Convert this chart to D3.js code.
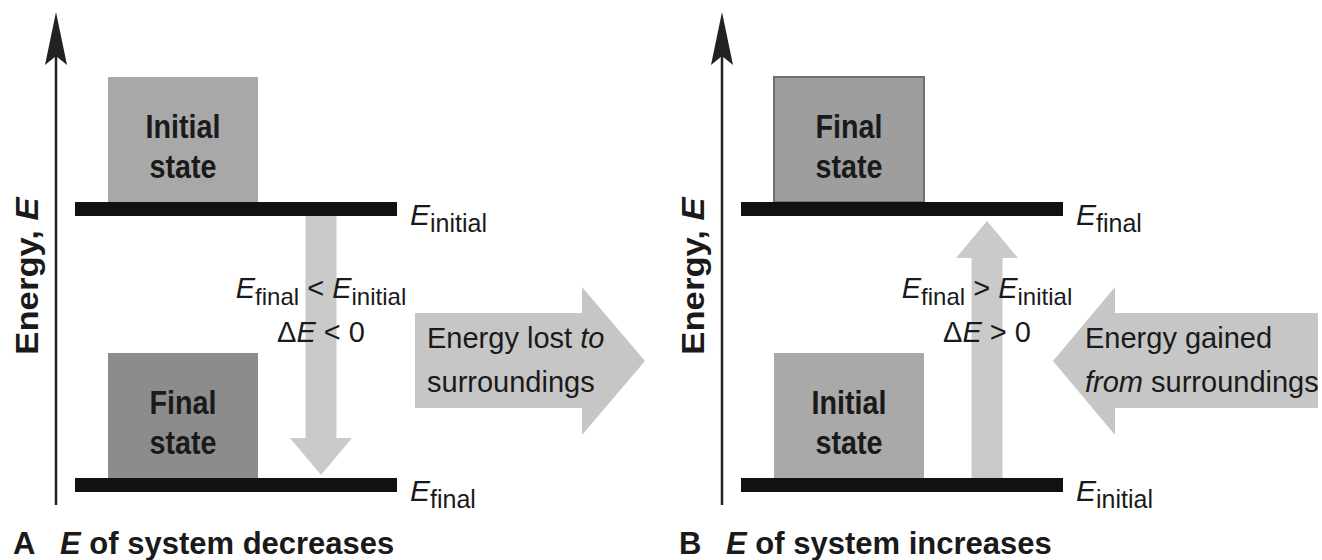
<!DOCTYPE html>
<html>
<head>
<meta charset="utf-8">
<script src="https://cdn.jsdelivr.net/npm/d3@7"></script>
<style>
  body { margin: 0; background: #fff; }
  svg { display: block; }
  text { font-family: "Liberation Sans", Arial, Helvetica, sans-serif; fill: #1a1a1a; }
</style>
</head>
<body>
<div id="main"></div>
<script>
const panels = ['A', 'B'];
const captions = ['of system decreases', 'of system increases'];
const initialEnergy = [1, 0];
const finalEnergy = [0, 1];
const relations = ['<', '>'];
const deltaSigns = ['< 0', '> 0'];
const flowDirections = ['out', 'in'];
const flowLabels = [
  [[['Energy lost ', false], ['to', true]], [['surroundings', false]]],
  [[['Energy gained', false]], [['from', true], [' surroundings', false]]]
];

const width = 1322;
const height = 560;

const svg = d3.select('#main')
  .append('svg')
    .attr('width', width)
    .attr('height', height);

const xPanel = d3.scaleBand()
    .domain(panels)
    .range([0, 1332]);

const yEnergy = d3.scaleLinear()
    .domain([0, 1])
    .range([478, 202]);

const barH = 14;
const boxW = 150;
const boxH = 125;

panels.forEach((p, i) => {
  const g = svg.append('g')
      .attr('transform', `translate(${xPanel(p)},0)`);

  drawAxis(g);
  drawTransition(g, i);

  const states = [
    {name: 'Initial', sub: 'initial', e: initialEnergy[i]},
    {name: 'Final', sub: 'final', e: finalEnergy[i]}
  ];
  states.forEach(s => drawState(g, s, i));

  drawFlow(g, i);

  // caption
  const cap = g.append('text')
      .attr('x', 13)
      .attr('y', 554)
      .attr('font-size', 31)
      .attr('font-weight', 'bold');
  cap.append('tspan').text(p);
  cap.append('tspan').attr('x', 60).attr('font-style', 'italic').text('E');
  cap.append('tspan').text(' ' + captions[i]);
});


function drawAxis(g) {
  g.append('line')
      .attr('x1', 56).attr('x2', 56)
      .attr('y1', 505).attr('y2', 50)
      .attr('stroke', '#222')
      .attr('stroke-width', 2.5);

  g.append('path')
      .attr('d', 'M56,12 L67,65 L56,56 L45,65 Z')
      .attr('fill', '#222');

  const t = g.append('text')
      .attr('transform', 'translate(38,276) rotate(-90) scale(1.12,1)')
      .attr('text-anchor', 'middle')
      .attr('font-size', 31)
      .attr('font-weight', 'bold');
  t.append('tspan').text('Energy, ');
  t.append('tspan').attr('font-style', 'italic').text('E');
}


function drawState(g, s, i) {
  const top = yEnergy(s.e);
  const fills = s.name === 'Initial' ? ['#a8a8a8', '#a9a9a9'] : ['#8c8c8c', '#9e9e9e'];

  g.append('rect')
      .attr('x', 108)
      .attr('y', top - boxH)
      .attr('width', boxW)
      .attr('height', boxH)
      .attr('fill', fills[i])
      .attr('stroke', i === 1 && s.name === 'Final' ? '#707070' : 'none')
      .attr('stroke-width', 2);

  [s.name, 'state'].forEach((line, k) => {
    g.append('text')
        .attr('transform', `translate(183,${top - boxH + 61 + k * 40}) scale(0.87,1)`)
        .attr('text-anchor', 'middle')
        .attr('font-size', 33)
        .attr('font-weight', 'bold')
        .text(line);
  });

  g.append('rect')
      .attr('x', 75)
      .attr('y', top)
      .attr('width', 322)
      .attr('height', barH)
      .attr('fill', '#111');

  const lab = g.append('text')
      .attr('x', 410)
      .attr('y', top + 23)
      .attr('font-size', 30);
  lab.append('tspan').attr('font-style', 'italic').text('E');
  lab.append('tspan').attr('font-size', 25).attr('dy', 7).text(s.sub);
}


function drawTransition(g, i) {
  const e0 = initialEnergy[i];
  const e1 = finalEnergy[i];
  const down = e1 < e0;
  const y0 = down ? yEnergy(e0) + barH : yEnergy(e0);
  const tip = down ? yEnergy(e1) - 3 : yEnergy(e1) + barH + 5;
  const dir = down ? 1 : -1;
  const cx = 321, sw = 15.5, hw = 31, hl = 37;
  const base = tip - dir * hl;

  const pts = [
    [cx - sw, y0], [cx + sw, y0], [cx + sw, base], [cx + hw, base],
    [cx, tip], [cx - hw, base], [cx - sw, base]
  ];
  g.append('path')
      .attr('d', d3.line()(pts) + 'Z')
      .attr('fill', '#cacaca');

  const rel = g.append('text')
      .attr('x', cx)
      .attr('y', 298)
      .attr('text-anchor', 'middle')
      .attr('font-size', 29);
  rel.append('tspan').attr('font-style', 'italic').text('E');
  rel.append('tspan').attr('font-size', 24).attr('dy', 7).text('final');
  rel.append('tspan').attr('dy', -7).text(' ' + relations[i] + ' ');
  rel.append('tspan').attr('font-style', 'italic').text('E');
  rel.append('tspan').attr('font-size', 24).attr('dy', 7).text('initial');

  const delta = g.append('text')
      .attr('x', cx)
      .attr('y', 342)
      .attr('text-anchor', 'middle')
      .attr('font-size', 29);
  delta.append('tspan').text('\u0394');
  delta.append('tspan').attr('font-style', 'italic').text('E');
  delta.append('tspan').text(' ' + deltaSigns[i]);
}


function drawFlow(g, i) {
  const out = flowDirections[i] === 'out';
  const bodyTop = 313, bodyBot = 408, headTop = 287, headBot = 435, mid = 361;
  let pts;
  if (out) {
    pts = [[415, bodyTop], [582, bodyTop], [582, headTop], [645, mid],
           [582, headBot], [582, bodyBot], [415, bodyBot]];
  } else {
    pts = [[387, mid], [449, headTop], [449, bodyTop], [652, bodyTop],
           [652, bodyBot], [449, bodyBot], [449, headBot]];
  }
  g.append('path')
      .attr('d', d3.line()(pts) + 'Z')
      .attr('fill', '#c6c6c6');

  const left = out ? 427 : 419;
  flowLabels[i].forEach((line, k) => {
    const t = g.append('text')
        .attr('x', left)
        .attr('y', 348 + k * 44)
        .attr('font-size', 29);
    line.forEach(([str, ital]) => {
      t.append('tspan')
          .attr('font-style', ital ? 'italic' : 'normal')
          .text(str);
    });
  });
}
</script>
</body>
</html>
